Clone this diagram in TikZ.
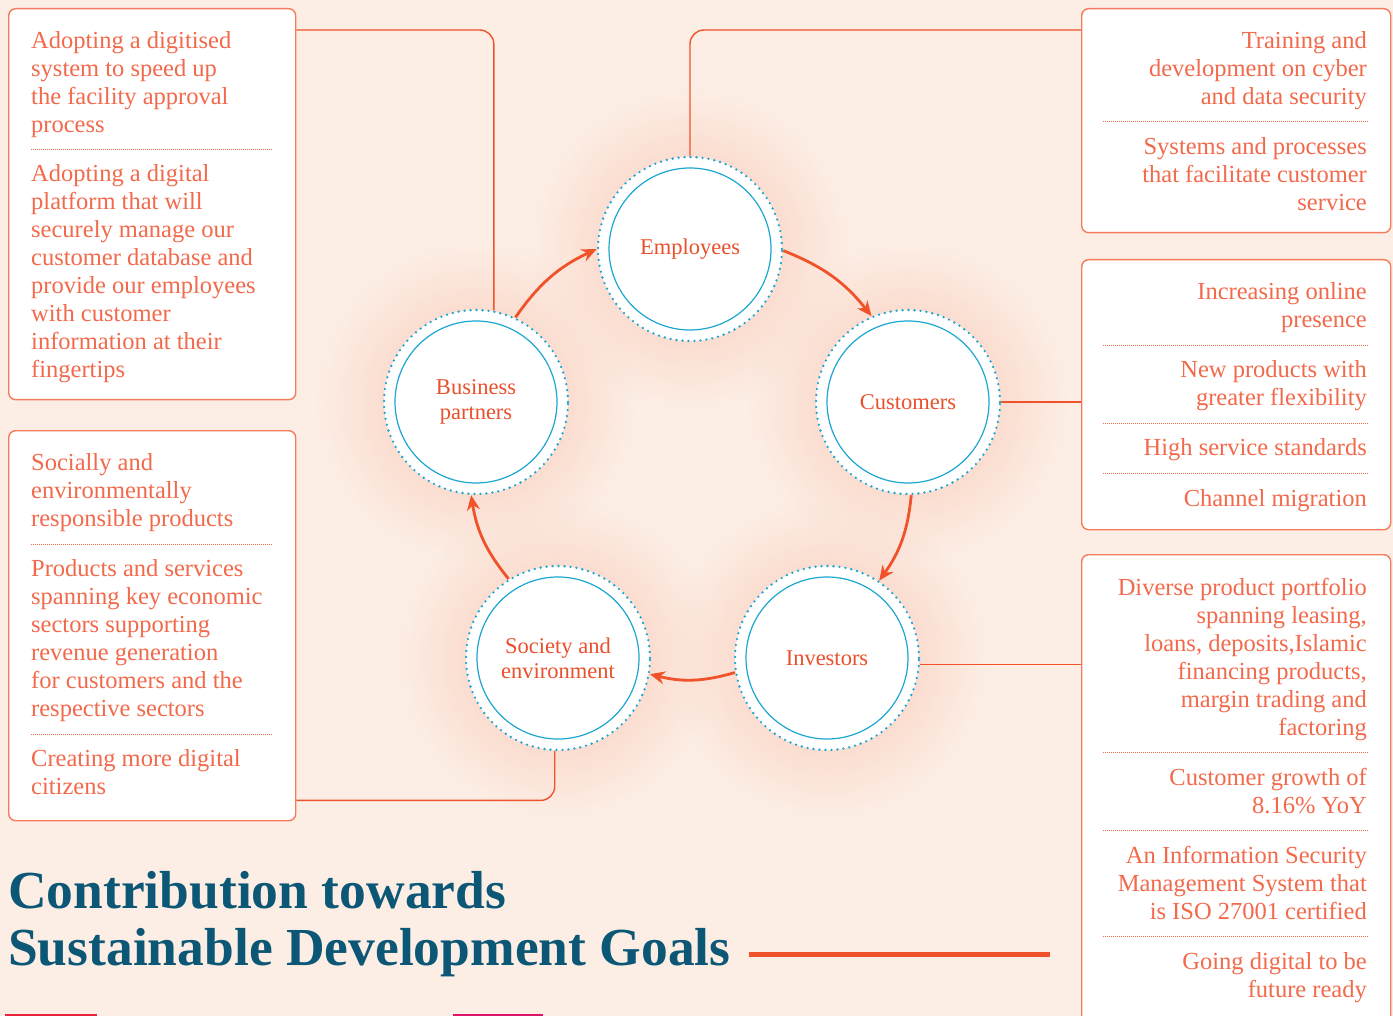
\documentclass[tikz,border=0pt]{standalone}
\usepackage{fontspec}
\setmainfont{Liberation Serif}
\usetikzlibrary{arrows.meta,calc,fadings}
\definecolor{bgc}{HTML}{FDEEE5}
\definecolor{btext}{HTML}{F26A4B}
\definecolor{bord}{HTML}{F47B5B}
\definecolor{connc}{HTML}{F0522A}
\definecolor{ctext}{HTML}{E9502B}
\definecolor{cyanc}{HTML}{1CA6D2}
\definecolor{titlec}{HTML}{0B5775}
\definecolor{glowc}{HTML}{FBDDD0}
\definecolor{sdgred}{HTML}{E5243B}
\definecolor{sdgmag}{HTML}{DD1367}
\pgfdeclareradialshading{glowfadeshade}{\pgfpointorigin}{color(0bp)=(white); color(14bp)=(white); color(25bp)=(black); color(50bp)=(black)}
\pgfdeclarefading{glowfade}{\pgfuseshading{glowfadeshade}}
\newcommand\paraL[4]{\foreach \t [count=\i] in {#4} \node[btxt, anchor=base west] (#1-\i) at (#2,{#3+28*(\i-1)}) {\t};}
\newcommand\paraR[4]{\foreach \t [count=\i] in {#4} \node[btxt, anchor=base east] (#1-\i) at (#2,{#3+28*(\i-1)}) {\t};}
\begin{document}
\begin{tikzpicture}[x=1pt,y=-1pt,
  boxnode/.style={draw=bord, line width=1.4pt, fill=white, rounded corners=7pt, inner sep=0pt, anchor=north west},
  btxt/.style={text=btext, font=\fontsize{24.5}{28}\selectfont, inner sep=0pt},
  sepline/.style={draw=btext, line width=0.9pt, dash pattern=on 1pt off 1pt},
  outerc/.style={circle, minimum size=184pt, inner sep=0pt, fill=white, draw=cyanc, line width=2.6pt, line cap=round, dash pattern=on 0pt off 6pt},
  innerc/.style={circle, minimum size=162pt, inner sep=0pt, draw=cyanc, line width=1.2pt, text=ctext, align=center, font=\fontsize{22.5}{25}\selectfont},
  conn/.style={draw=connc, line width=1.4pt, rounded corners=14pt},
  arr/.style={draw=connc, line width=2.8pt, -{Stealth[length=15pt,width=13pt]}},
  ttl/.style={text=titlec, font=\fontsize{53.5}{57}\selectfont\bfseries, inner sep=0pt, anchor=base west}
]
\useasboundingbox (0,0) rectangle (1393,1016);
\fill[bgc] (0,0) rectangle (1393,1016);
\begin{scope}
\clip (0,0) rectangle (1393,1016);
% glows
\foreach \cx/\cy in {690/249, 908/402, 827/658, 558/658, 476/402}
  \fill[glowc, path fading=glowfade] (\cx,\cy) circle (160);
% boxes
\node[boxnode, minimum width=287pt, minimum height=391pt] (tl) at (8,8) {};
\node[boxnode, minimum width=287pt, minimum height=390pt] (ml) at (8,430) {};
\node[boxnode, minimum width=309pt, minimum height=224pt] (tr) at (1081,8) {};
\node[boxnode, minimum width=309pt, minimum height=270pt] (mr) at (1081,259) {};
\node[boxnode, minimum width=309pt, minimum height=500pt] (br) at (1081,554) {};
% box texts
\paraL{tla}{31}{48.5}{Adopting a digitised, system to speed up, the facility approval, process}
\draw[sepline] (31,149) -- (273,149);
\paraL{tlb}{31}{181.5}{Adopting a digital, platform that will, securely manage our, customer database and, provide our employees, with customer, information at their, fingertips}
\paraL{mla}{31}{470.5}{Socially and, environmentally, responsible products}
\draw[sepline] (31,544) -- (273,544);
\paraL{mlb}{31}{576.5}{Products and services, spanning key economic, sectors supporting, revenue generation, for customers and the, respective sectors}
\draw[sepline] (31,734) -- (273,734);
\paraL{mlc}{31}{766.5}{Creating more digital, citizens}
\paraR{tra}{1367}{48.5}{Training and, development on cyber, and data security}
\draw[sepline] (1103,121) -- (1368,121);
\paraR{trb}{1367}{154.5}{Systems and processes, that facilitate customer, service}
\paraR{mra}{1367}{299.5}{Increasing online, presence}
\draw[sepline] (1103,345) -- (1368,345);
\paraR{mrb}{1367}{377.5}{New products with, greater flexibility}
\draw[sepline] (1103,423) -- (1368,423);
\paraR{mrc}{1367}{455.5}{High service standards}
\draw[sepline] (1103,473) -- (1368,473);
\paraR{mrd}{1367}{506.5}{Channel migration}
\paraR{bra}{1367}{595.5}{Diverse product portfolio, {spanning leasing,}, {loans, deposits,Islamic}, {financing products,}, margin trading and, factoring}
\draw[sepline] (1103,752) -- (1368,752);
\paraR{brb}{1367}{785.5}{Customer growth of, 8.16\% YoY}
\draw[sepline] (1103,830) -- (1368,830);
\paraR{brc}{1367}{863.5}{An Information Security, Management System that, is ISO 27001 certified}
\draw[sepline] (1103,936) -- (1368,936);
\paraR{brd}{1367}{969.5}{Going digital to be, future ready}
% circles
\node[outerc] (emp) at (690,249) {};
\node[outerc] (cus) at (908,402) {};
\node[outerc] (inv) at (827,658) {};
\node[outerc] (soc) at (558,658) {};
\node[outerc] (bp) at (476,402) {};
\node[innerc] (empt) at (emp) {Employees};
\node[innerc] (cust) at (cus) {Customers};
\node[innerc] (invt) at (inv) {Investors};
\node[innerc] (soct) at (soc) {Society and\\environment};
\node[innerc] (bpt) at (bp) {Business\\partners};
% connectors to boxes
\draw[conn] (bp.79.35) |- ([yshift=-22pt]tl.north east);
\draw[conn] (emp.90.6) |- ([yshift=-22pt]tr.north west);
\draw[conn] (cus.0) -- (cus.0 -| mr.west);
\draw[conn] (inv.356.3) -- (inv.356.3 -| br.west);
\draw[conn] (soc.268.8) |- ([yshift=21pt]ml.south east);
% cycle arrows
\draw[arr] (bp.65.7) to[bend left=15] (emp.180);
\draw[arr] (emp.-1) to[bend left=15] (cus.113.8);
\draw[arr] (cus.272.5) to[bend left=15] (inv.56.8);
\draw[arr] (inv.189.3) to[bend left=15] (soc.350.7);
\draw[arr] (soc.122) to[bend left=15] (bp.267.5);
% title
\node[ttl] (t1) at (8,908) {Contribution towards};
\node[ttl] (t2) at (8,965) {Sustainable Development Goals};
\coordinate (barend) at (1050,954.5);
\draw[draw=connc, line width=5pt] ([xshift=18pt]t2.base east |- barend) -- (barend);
% bottom SDG strips
\fill[sdgred] (5,1014) rectangle (97,1018);
\fill[sdgmag] (453,1014) rectangle (543,1018);
\end{scope}
\end{tikzpicture}
\end{document}
